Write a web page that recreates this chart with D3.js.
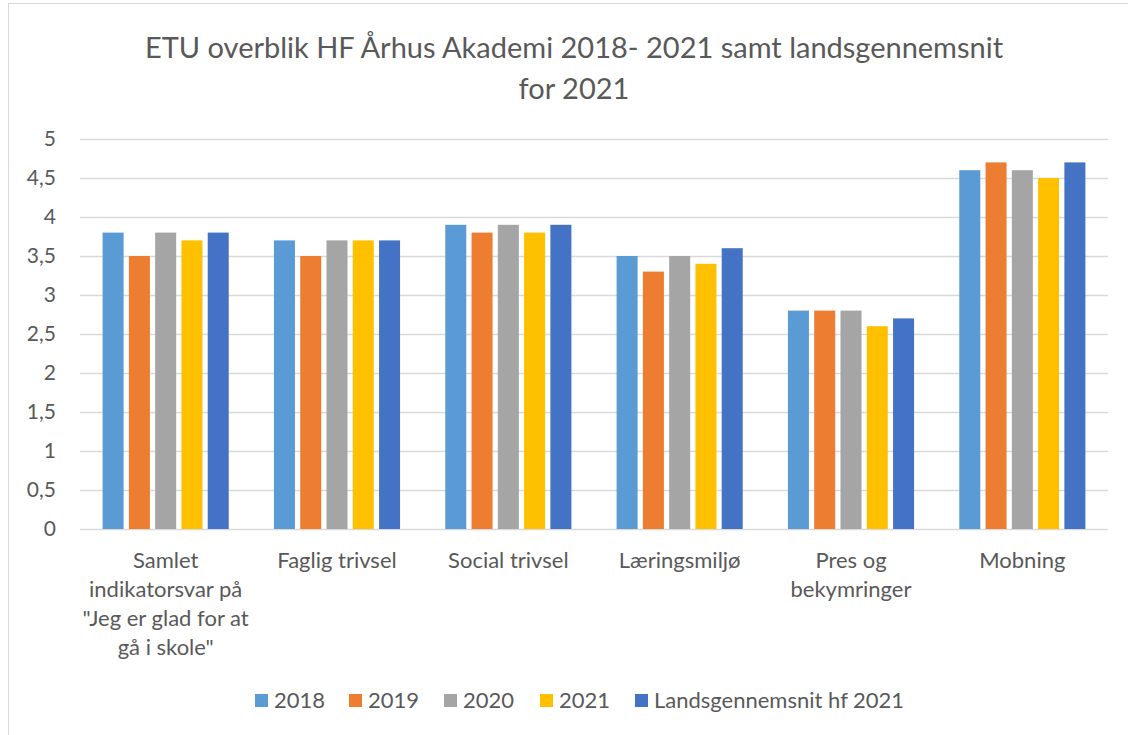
<!DOCTYPE html>
<html lang="da">
<head>
<meta charset="utf-8">
<title>ETU overblik</title>
<script src="https://cdn.jsdelivr.net/npm/d3@7"></script>
<style>
  body { margin: 0; background: #fff; }
  text { font-family: Lato, "Open Sans", sans-serif; fill: #595959; }
</style>
</head>
<body>
<script>
// data
var categories = [
  ["Samlet", "indikatorsvar på", "\"Jeg er glad for at", "gå i skole\""],
  ["Faglig trivsel"],
  ["Social trivsel"],
  ["Læringsmiljø"],
  ["Pres og", "bekymringer"],
  ["Mobning"]
];
var seriesNames = ["2018", "2019", "2020", "2021", "Landsgennemsnit hf 2021"];
var v2018 = [3.8, 3.7, 3.9, 3.5, 2.8, 4.6];
var v2019 = [3.5, 3.5, 3.8, 3.3, 2.8, 4.7];
var v2020 = [3.8, 3.7, 3.9, 3.5, 2.8, 4.6];
var v2021 = [3.7, 3.7, 3.8, 3.4, 2.6, 4.5];
var vLands = [3.8, 3.7, 3.9, 3.6, 2.7, 4.7];
var yTicks = [0, 0.5, 1, 1.5, 2, 2.5, 3, 3.5, 4, 4.5, 5];
var colors = ["#5B9BD5", "#ED7D31", "#A5A5A5", "#FFC000", "#4472C4"];

var series = [v2018, v2019, v2020, v2021, vLands];
var w = 1128, h = 735;
var plotLeft = 80, plotRight = 1108, plotTop = 139, plotBottom = 529;

var svg = d3.select("body").append("svg")
  .attr("width", w).attr("height", h);

// chart border
svg.append("rect")
  .attr("x", 8.5).attr("y", 3.5)
  .attr("width", 1200).attr("height", 800)
  .attr("fill", "none").attr("stroke", "#D9D9D9");

// title
var title = svg.append("text")
  .attr("text-anchor", "middle")
  .attr("font-size", "29px");
title.append("tspan").attr("x", 574).attr("y", 58)
  .text("ETU overblik HF Århus Akademi 2018- 2021 samt landsgennemsnit");
title.append("tspan").attr("x", 574).attr("y", 99).text("for 2021");

var x0 = d3.scaleBand()
  .domain(d3.range(categories.length))
  .range([plotLeft, plotRight]);
var x1 = d3.scaleBand()
  .domain(d3.range(seriesNames.length))
  .range([0, x0.bandwidth()])
  .paddingOuter(0.86)
  .paddingInner(0.2);
var y = d3.scaleLinear().domain([0, 5]).range([plotBottom, plotTop]);

// gridlines
svg.append("g").selectAll("line")
  .data(yTicks)
  .enter().append("line")
  .attr("x1", plotLeft).attr("x2", plotRight)
  .attr("y1", function(d) { return Math.round(y(d)) + 0.5; })
  .attr("y2", function(d) { return Math.round(y(d)) + 0.5; })
  .attr("stroke", "#D9D9D9")
  .attr("stroke-width", 1.3);

// y axis labels
var yAxis = d3.axisLeft(y)
  .tickValues(yTicks)
  .tickSize(0)
  .tickPadding(0)
  .tickFormat(function(d) { return String(d).replace(".", ","); });
var yg = svg.append("g")
  .attr("transform", "translate(56,0)")
  .call(yAxis);
yg.select(".domain").remove();
yg.selectAll("text")
  .attr("font-size", "21px")
  .style("font-family", "Lato, sans-serif")
  .attr("fill", "#595959");

// bars
var groups = svg.append("g").selectAll("g")
  .data(categories)
  .enter().append("g")
  .attr("transform", function(d, i) { return "translate(" + x0(i) + ",0)"; });

groups.selectAll("rect")
  .data(function(d, i) {
    return series.map(function(s, k) { return { k: k, v: s[i] }; });
  })
  .enter().append("rect")
  .attr("x", function(d) { return x1(d.k); })
  .attr("y", function(d) { return y(d.v); })
  .attr("width", x1.bandwidth())
  .attr("height", function(d) { return plotBottom - y(d.v); })
  .attr("fill", function(d) { return colors[d.k]; });

// category labels
groups.append("text")
  .attr("text-anchor", "middle")
  .attr("font-size", "22px")
  .selectAll("tspan")
  .data(function(d) { return d; })
  .enter().append("tspan")
  .attr("x", x0.bandwidth() / 2)
  .attr("y", function(d, j) { return 568 + j * 29; })
  .text(function(d) { return d; });

// legend
var legendX = [255, 349, 444, 540, 635];
var legend = svg.append("g").selectAll("g")
  .data(seriesNames)
  .enter().append("g")
  .attr("transform", function(d, i) { return "translate(" + legendX[i] + ",694)"; });
legend.append("rect")
  .attr("width", 13).attr("height", 13)
  .attr("fill", function(d, i) { return colors[i]; });
legend.append("text")
  .attr("x", 19).attr("y", 14)
  .attr("font-size", "22px")
  .text(function(d) { return d; });
</script>
</body>
</html>
